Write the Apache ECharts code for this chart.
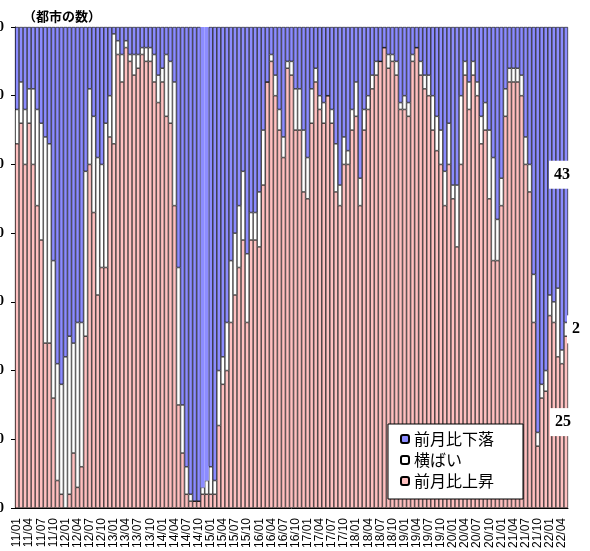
<!DOCTYPE html>
<html>
<head>
<meta charset="utf-8">
<script src="https://cdn.jsdelivr.net/npm/echarts@6/dist/echarts.min.js"></script>
<style>
  html, body { margin: 0; padding: 0; background: #fff; }
  #bar { width: 590px; height: 551px; }
</style>
</head>
<body>
<div id="bar"></div>
<script>
// 月 (yy/mm), 2011/01 - 2022/05
var months = [
  '11/01','11/02','11/03','11/04','11/05','11/06','11/07','11/08','11/09','11/10','11/11','11/12',
  '12/01','12/02','12/03','12/04','12/05','12/06','12/07','12/08','12/09','12/10','12/11','12/12',
  '13/01','13/02','13/03','13/04','13/05','13/06','13/07','13/08','13/09','13/10','13/11','13/12',
  '14/01','14/02','14/03','14/04','14/05','14/06','14/07','14/08','14/09','14/10','14/11','14/12',
  '15/01','15/02','15/03','15/04','15/05','15/06','15/07','15/08','15/09','15/10','15/11','15/12',
  '16/01','16/02','16/03','16/04','16/05','16/06','16/07','16/08','16/09','16/10','16/11','16/12',
  '17/01','17/02','17/03','17/04','17/05','17/06','17/07','17/08','17/09','17/10','17/11','17/12',
  '18/01','18/02','18/03','18/04','18/05','18/06','18/07','18/08','18/09','18/10','18/11','18/12',
  '19/01','19/02','19/03','19/04','19/05','19/06','19/07','19/08','19/09','19/10','19/11','19/12',
  '20/01','20/02','20/03','20/04','20/05','20/06','20/07','20/08','20/09','20/10','20/11','20/12',
  '21/01','21/02','21/03','21/04','21/05','21/06','21/07','21/08','21/09','21/10','21/11','21/12',
  '22/01','22/02','22/03','22/04','22/05'
];

// 前月比上昇
var riseData = [
  53,56,50,56,50,44,39,24,24,16,4,2,
  0,2,8,3,6,25,50,43,31,35,35,54,
  53,66,62,67,65,63,64,66,65,65,62,59,
  62,57,56,44,15,8,2,1,1,1,2,2,
  2,2,12,18,20,27,31,35,39,27,39,39,
  38,47,62,65,60,55,51,64,63,55,55,46,
  45,56,62,58,56,60,56,46,44,50,50,55,
  57,44,55,58,61,63,65,67,64,65,63,58,
  58,57,65,67,63,61,60,55,52,50,44,50,
  45,38,50,63,58,63,60,53,55,45,36,36,
  44,57,62,62,62,60,50,46,27,9,16,17,
  28,27,22,21,25
];
// 横ばい
var flatData = [
  5,6,8,5,11,14,17,30,29,20,17,16,
  22,23,16,24,21,24,11,14,20,15,21,6,
  16,2,4,1,1,3,2,1,2,2,4,4,
  2,9,9,18,20,7,4,1,0,0,1,2,
  4,2,8,4,7,9,9,9,10,10,4,4,
  8,8,0,1,3,3,3,1,2,6,6,9,
  6,5,2,2,3,0,2,7,3,4,2,3,
  5,4,3,2,2,2,0,0,2,1,2,1,
  2,2,1,0,2,2,3,5,5,5,5,6,
  2,9,10,2,4,2,2,4,4,10,15,6,
  4,4,2,2,2,3,4,4,7,2,2,3,
  3,3,10,2,2
];
// 前月比下落
var fallData = [
  12,8,12,9,9,12,14,16,17,34,49,52,
  48,45,46,43,43,21,9,13,19,20,14,10,
  1,2,4,2,4,4,4,3,3,3,4,7,
  6,4,5,8,35,55,64,68,69,69,67,66,
  64,66,50,48,43,34,30,26,21,33,27,27,
  24,15,8,4,7,12,16,5,5,9,9,15,
  19,9,6,10,11,10,12,17,23,16,18,12,
  8,22,12,10,7,5,5,3,4,4,5,11,
  10,11,4,3,5,7,7,10,13,15,21,14,
  23,23,10,5,8,5,8,13,11,15,19,28,
  22,9,6,6,6,7,16,20,36,59,52,50,
  39,40,38,47,43
];

var legendNames = ['前月比下落', '横ばい', '前月比上昇'];

function lastLabel(data, dx) {
  // 最新月だけ数値を表示
  return data.map(function (v, i) {
    if (i !== data.length - 1) return v;
    return {
      value: v,
      label: {
        show: true,
        position: 'inside',
        offset: [dx, 0],
        formatter: '{c}',
        color: '#000',
        fontFamily: 'Liberation Serif',
        fontWeight: 'bold',
        fontSize: 16,
        backgroundColor: '#fff',
        padding: [6, 5]
      }
    };
  });
}

var fallItems = lastLabel(fallData, -4);
// 14/11, 14/12 は枠線なし
[46, 47].forEach(function (i) {
  fallItems[i] = { value: fallData[i], itemStyle: { borderWidth: 0 } };
});

var option = {
  animation: false,
  title: {
    text: '（都市の数）',
    left: 18,
    top: 5,
    textStyle: {
      fontFamily: 'Noto Sans CJK JP',
      fontWeight: 'bold',
      fontSize: 13,
      color: '#000'
    }
  },
  legend: {
    data: legendNames,
    orient: 'vertical',
    left: 388,
    top: 424,
    backgroundColor: '#fff',
    borderColor: '#000',
    borderWidth: 1,
    padding: [7, 29, 10, 12],
    itemWidth: 8,
    itemHeight: 8,
    itemGap: 5,
    textStyle: {
      fontFamily: 'Noto Sans CJK JP',
      fontSize: 16,
      color: '#000'
    }
  },
  grid: {
    left: 15,
    right: 22,
    top: 27,
    bottom: 43,
    outerBoundsMode: 'none'
  },
  xAxis: {
    type: 'category',
    data: months,
    axisLine: { lineStyle: { color: '#000', width: 1 } },
    axisTick: { show: false },
    axisLabel: {
      interval: function (i) { return i % 3 === 0; },
      rotate: 90,
      fontSize: 12,
      fontFamily: 'Liberation Sans',
      color: '#000',
      margin: 10
    }
  },
  yAxis: {
    type: 'value',
    min: 0,
    max: 70,
    interval: 10,
    axisLine: { show: true, lineStyle: { color: '#000', width: 1 } },
    axisTick: { show: true, length: 4, lineStyle: { color: '#000' } },
    splitLine: { show: false },
    axisLabel: {
      fontSize: 14,
      fontFamily: 'Liberation Serif',
      fontWeight: 'bold',
      color: '#000',
      margin: 11
    }
  },
  series: [
    {
      name: '前月比上昇',
      type: 'bar',
      stack: 'total',
      barCategoryGap: '0%',
      itemStyle: { color: '#FFC0C0', borderColor: '#000', borderWidth: 0.6 },
      data: lastLabel(riseData, -3)
    },
    {
      name: '横ばい',
      type: 'bar',
      stack: 'total',
      barCategoryGap: '0%',
      itemStyle: { color: '#FFFFFF', borderColor: '#000', borderWidth: 0.6 },
      data: lastLabel(flatData, 10)
    },
    {
      name: '前月比下落',
      type: 'bar',
      stack: 'total',
      barCategoryGap: '0%',
      itemStyle: { color: '#8C8CFF', borderColor: '#000', borderWidth: 0.6 },
      data: fallItems
    }
  ]
};

var chartDom = document.getElementById('bar');
var myChart = echarts.init(chartDom);
option && myChart.setOption(option);
</script>
</body>
</html>
